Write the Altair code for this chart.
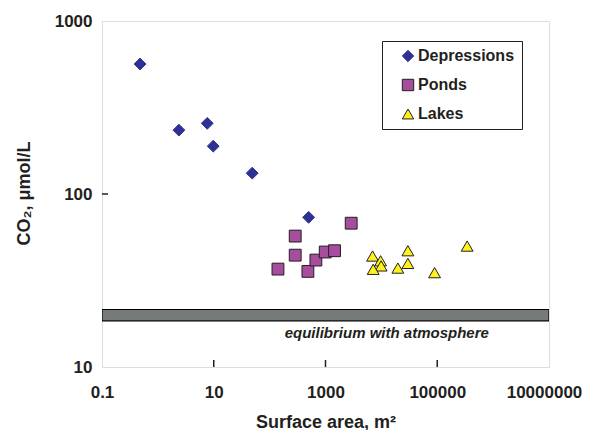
import altair as alt
import pandas as pd

# ---- data ----
dep_x = [0.48, 2.38, 7.65, 9.8, 48.8, 499]
dep_y = [564, 234, 256, 189, 132, 73.3]

pond_x = [2884, 287, 287, 141, 484, 673, 989, 1452]
pond_y = [67.8, 57.1, 44.3, 36.8, 35.7, 41.5, 46.2, 47.0]

lake_x = [6950, 9690, 9900, 7130, 19700, 29800, 29800, 89600, 343000]
lake_y = [43.8, 41.1, 38.4, 36.7, 37.3, 47.0, 39.7, 35.1, 50.0]

categories = ["Depressions", "Ponds", "Lakes"]
band_low, band_high = 18.5, 21.5
band_label = "equilibrium with atmosphere"
label_x, label_y = 12500, 15.8
x_ticks = [0.1, 10, 1000, 100000, 10000000]
y_ticks = [10, 100, 1000]
x_inner_ticks = [10, 1000, 100000]
y_inner_ticks = [100]

W, H = 447, 346
FONT = "Liberation Sans"
INK = "#231f20"

rows = []
for name, xs, ys in [("Depressions", dep_x, dep_y), ("Ponds", pond_x, pond_y), ("Lakes", lake_x, lake_y)]:
    for a, b in zip(xs, ys):
        rows.append({"area": a, "co2": b, "type": name})
pts = pd.DataFrame(rows)

xscale = alt.Scale(type="log", domain=[0.1, 10000000], nice=False)
yscale = alt.Scale(type="log", domain=[10, 1000], nice=False)

xaxis = alt.Axis(
    values=x_ticks, title="Surface area, m²", grid=False, ticks=False, domain=False,
    labelExpr="datum.value < 1 ? '0.1' : format(datum.value, 'd')",
    labelFont=FONT, labelFontSize=17, labelFontWeight="bold", labelColor=INK,
    labelPadding=17, labelFlush=False, labelOverlap=False,
    labelOffset={"condition": {"test": "datum.value > 1000000", "value": -5}, "value": 0},
    titleFont=FONT, titleFontSize=18, titleFontWeight="bold", titleColor=INK,
    titleY=60, titleBaseline="alphabetic",
)
yaxis = alt.Axis(
    values=y_ticks, title="CO₂, μmol/L", grid=False, ticks=False, domain=False, format="d",
    labelFont=FONT, labelFontSize=17, labelFontWeight="bold", labelColor=INK,
    labelPadding=10, labelFlush=False, labelOverlap=False,
    titleFont=FONT, titleFontSize=18, titleFontWeight="bold", titleColor=INK,
    titleX=-78, titleY=172, titleBaseline="middle",
)

band_df = pd.DataFrame({"x1": [0.1], "x2": [10000000], "y1": [band_low], "y2": [band_high]})
band = alt.Chart(band_df).mark_rect(fill="#767b79", stroke="black", strokeWidth=1.2, clip=True).encode(
    x=alt.X("x1:Q", scale=xscale, axis=xaxis),
    x2="x2:Q",
    y=alt.Y("y1:Q", scale=yscale, axis=yaxis),
    y2="y2:Q",
)

txt = alt.Chart(pd.DataFrame({"x": [label_x], "y": [label_y], "t": [band_label]})).mark_text(
    font=FONT, fontSize=15, fontStyle="italic", fontWeight="bold", color=INK
).encode(x=alt.X("x:Q", scale=xscale), y=alt.Y("y:Q", scale=yscale), text="t:N")

xt = alt.Chart(pd.DataFrame({"v": x_inner_ticks})).mark_rule(color=INK, strokeWidth=1.5).encode(
    x=alt.X("v:Q", scale=xscale), y=alt.value(H), y2=alt.value(H - 7)
)
yt = alt.Chart(pd.DataFrame({"v": y_inner_ticks})).mark_rule(color=INK, strokeWidth=1.5).encode(
    y=alt.Y("v:Q", scale=yscale), x=alt.value(0), x2=alt.value(6)
)

leg = alt.Legend(
    title=None, orient="none", legendX=280, legendY=20,
    strokeColor=INK, padding=7, cornerRadius=0, fillColor="white",
    labelFont=FONT, labelFontSize=16, labelFontWeight="bold", labelColor=INK,
    labelExpr="datum.label + '\u00a0\u00a0\u00a0\u00a0\u00a0'",
    symbolSize=130, symbolStrokeWidth=1, symbolOffset=11, rowPadding=13, labelOffset=2, labelLimit=300,
)

points = alt.Chart(pts).mark_point(filled=True, opacity=1, strokeWidth=1).encode(
    x=alt.X("area:Q", scale=xscale),
    y=alt.Y("co2:Q", scale=yscale),
    shape=alt.Shape("type:N", scale=alt.Scale(domain=categories, range=["diamond", "square", "triangle-up"]), legend=leg),
    fill=alt.Fill("type:N", scale=alt.Scale(domain=categories, range=["#2e3192", "#a64d9e", "#fff21a"]), legend=leg),
    stroke=alt.Stroke("type:N", scale=alt.Scale(domain=categories, range=["#2e3192", INK, INK]), legend=leg),
    size=alt.value(140),
)

chart = alt.layer(band, txt, xt, yt, points).properties(
    width=W, height=H,
    autosize=alt.AutoSizeParams(type="none"),
    padding={"left": 94, "top": 13, "right": 33, "bottom": 63},
).configure_view(
    stroke=INK, strokeWidth=2
).configure(background="white")

chart.save("out.html", embed_options={"renderer": "svg", "actions": False})
